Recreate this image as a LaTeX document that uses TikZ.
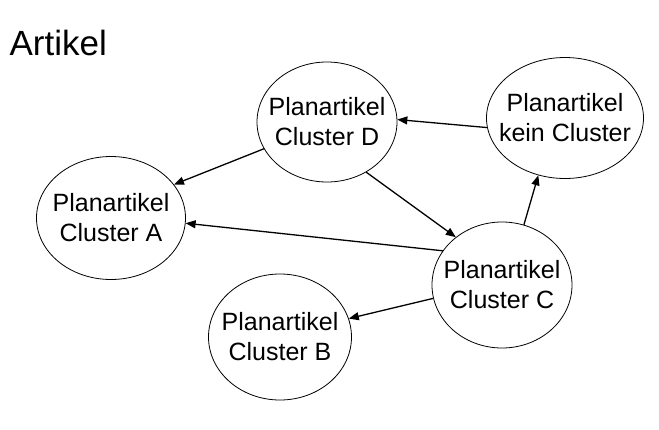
\documentclass[tikz,border=0pt]{standalone}
\usepackage{fontspec}
\setmainfont{Liberation Sans}
\usetikzlibrary{arrows.meta,shapes.geometric}

\begin{document}
\begin{tikzpicture}[x=1pt,y=-1pt,->,>={Triangle[length=10pt,width=8pt]},line width=1.3pt,
  cluster node/.style={ellipse,draw,line width=0.8pt,inner xsep=-14pt,inner ysep=0pt,align=center,font=\fontsize{25}{30}\selectfont}]
  \useasboundingbox (0,0) rectangle (659,429);

  \node[anchor=base west,inner sep=0pt,font=\fontsize{35}{40}\selectfont] (title) at (9,55) {Artikel};

  \node[cluster node,minimum width=140pt,minimum height=120pt] (D) at (327,122) {Planartikel\\Cluster D};
  \node[cluster node,minimum width=157pt,minimum height=121pt] (K) at (565,118) {Planartikel\\kein Cluster};
  \node[cluster node,minimum width=149pt,minimum height=123pt] (A) at (111,218) {Planartikel\\Cluster A};
  \node[cluster node,minimum width=140pt,minimum height=126pt] (C) at (502,285) {Planartikel\\Cluster C};
  \node[cluster node,minimum width=143pt,minimum height=126pt] (B) at (280,337) {Planartikel\\Cluster B};

  \path
    (K.187.5) edge (D.2)
    (D.203) edge (A.28)
    (D.-52) edge (C.134)
    (C.150.5) edge (A.-4)
    (C.191.5) edge (B.15)
    (C.70) edge (K.245)
  ;

\end{tikzpicture}
\end{document}
